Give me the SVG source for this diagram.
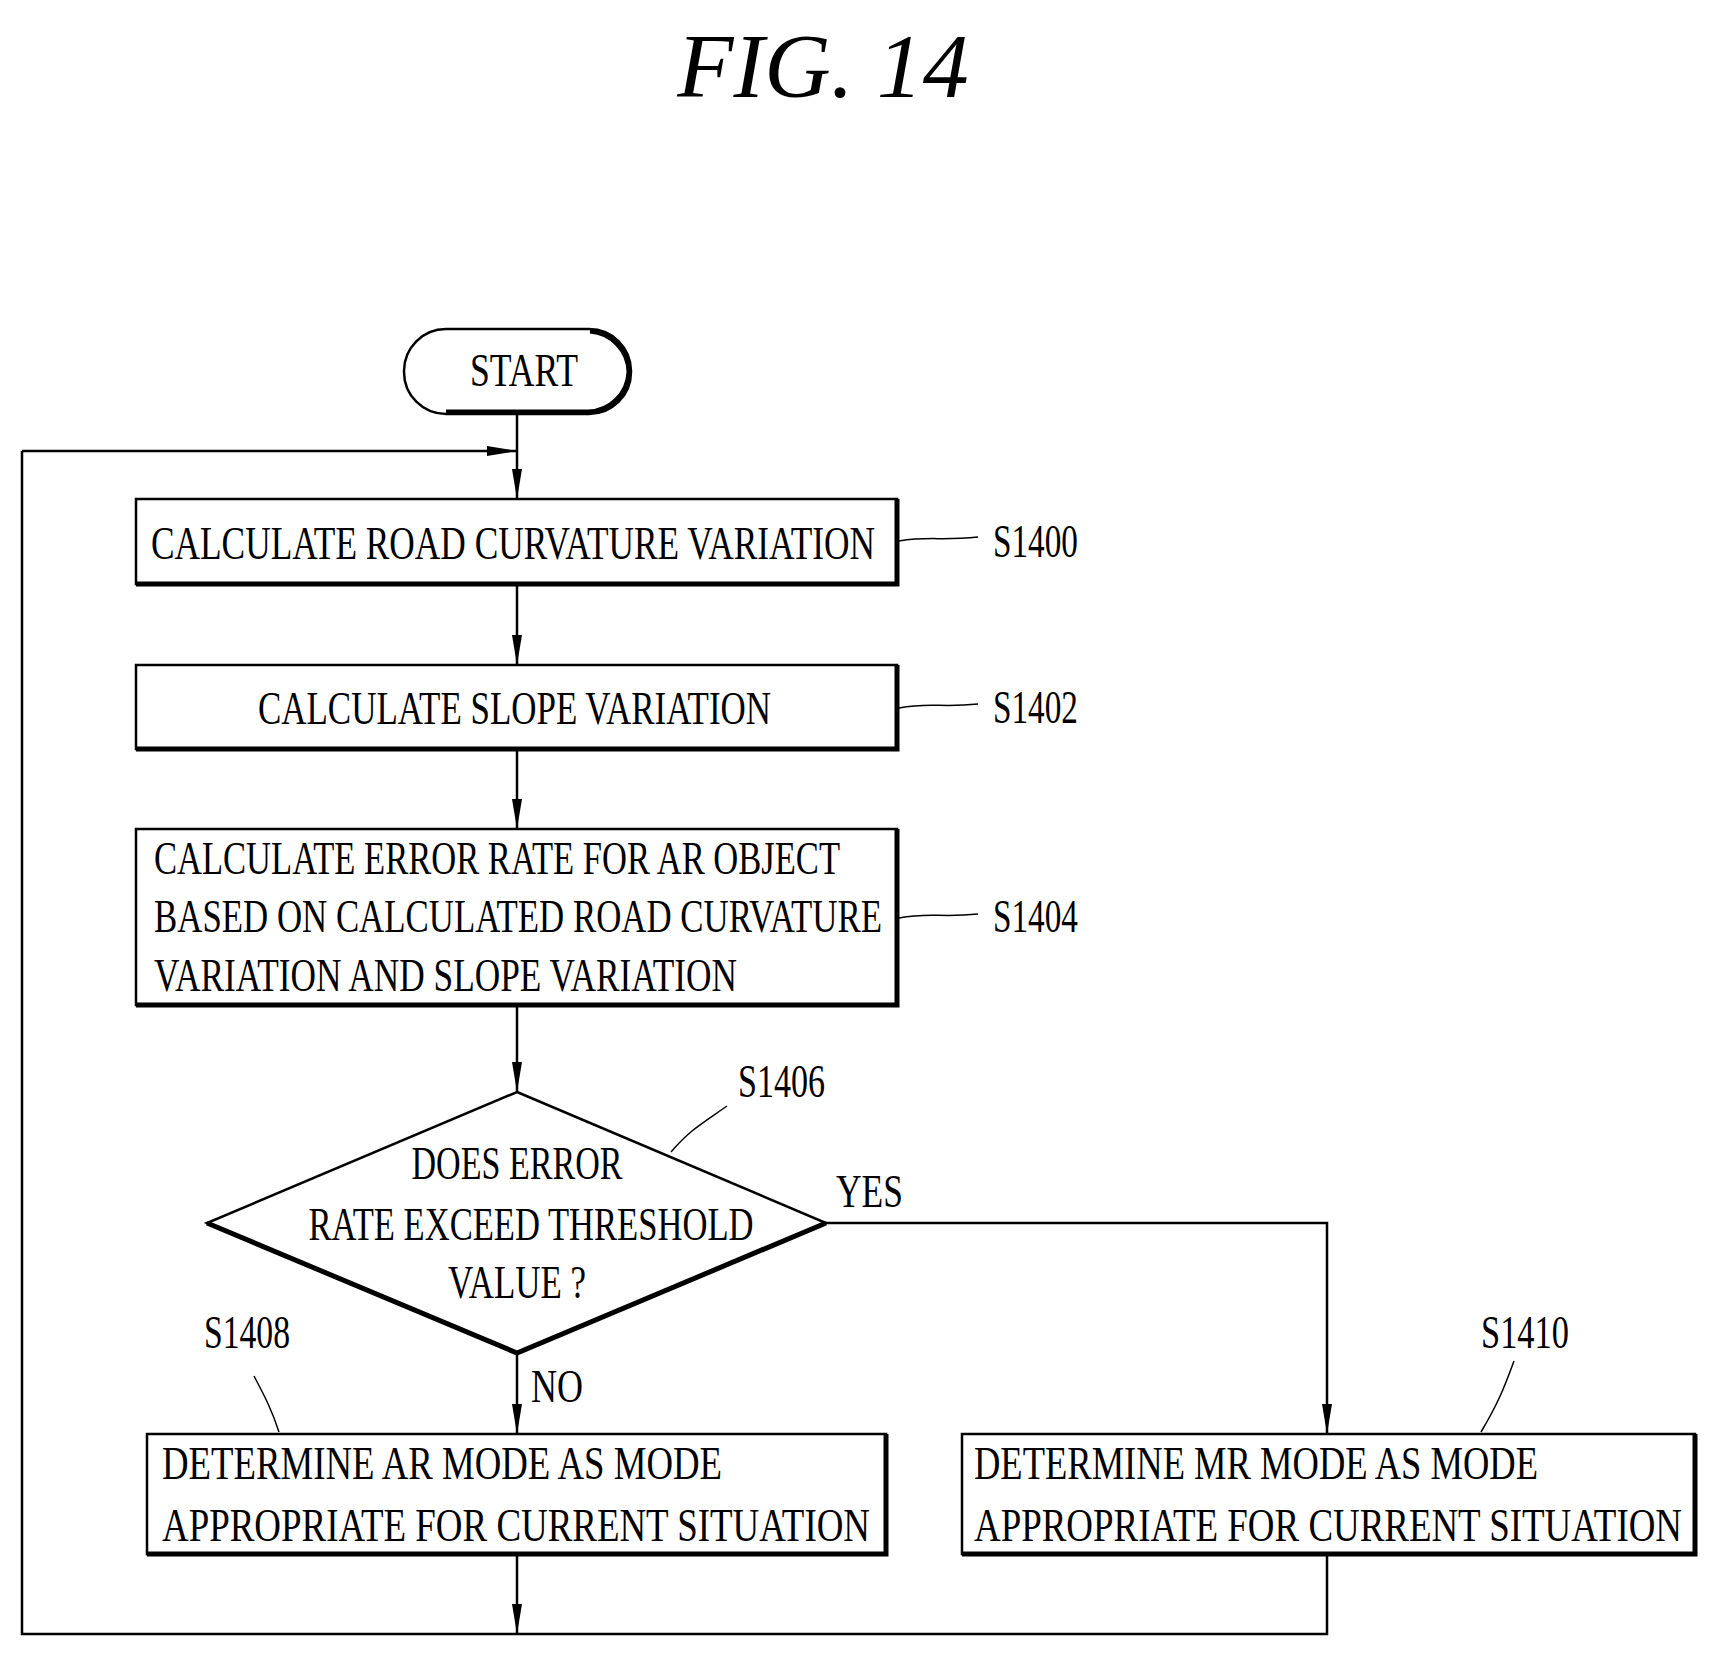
<svg xmlns="http://www.w3.org/2000/svg" width="1711" height="1654" viewBox="0 0 1711 1654">
<style>
text{font-family:"Liberation Serif","Times New Roman",serif;fill:#000}
.t{font-size:46px}
.box{fill:#fff;stroke:#000;stroke-width:2.5}
.sh{fill:none;stroke:#000;stroke-width:5}
.ln{fill:none;stroke:#000;stroke-width:2.5}
.ld{fill:none;stroke:#000;stroke-width:1.5}
</style>
<defs>
<marker id="ah" viewBox="0 0 10 10" refX="10" refY="5" markerWidth="30" markerHeight="10" markerUnits="userSpaceOnUse" orient="auto" preserveAspectRatio="none"><path d="M0,0 L10,5 L0,10 Z" fill="#000"/></marker>
</defs>
<text x="823" y="97" font-size="92" font-style="italic" text-anchor="middle">FIG. 14</text>
<g id="connectors">
<path class="ln" d="M517,414 V499" marker-end="url(#ah)"/>
<path class="ln" d="M22,451 H517" marker-end="url(#ah)"/>
<path class="ln" d="M517,584 V665" marker-end="url(#ah)"/>
<path class="ln" d="M517,749 V829" marker-end="url(#ah)"/>
<path class="ln" d="M517,1005 V1092" marker-end="url(#ah)"/>
<path class="ln" d="M517,1353 V1434" marker-end="url(#ah)"/>
<path class="ln" d="M826,1223 H1327 V1434" marker-end="url(#ah)"/>
<path class="ln" d="M517,1554 V1634" marker-end="url(#ah)"/>
<path class="ln" d="M1327,1554 V1634 H22 V451"/>
<text class="t" x="836" y="1207" textLength="67" lengthAdjust="spacingAndGlyphs">YES</text>
<text class="t" x="531" y="1402" textLength="52" lengthAdjust="spacingAndGlyphs">NO</text>
</g>
<g id="start">
<rect x="404" y="329" width="227" height="85" rx="42" class="box"/>
<path class="sh" d="M590,331 A42,42 0 0 1 629,372 A42,42 0 0 1 588,412 H446"/>
<text class="t" x="524" y="386" text-anchor="middle" textLength="108" lengthAdjust="spacingAndGlyphs">START</text>
</g>
<g id="s1400">
<rect x="136" y="499" width="761" height="85" class="box"/>
<path class="sh" d="M136,584 H897 V499"/>
<text class="t" x="151" y="559" textLength="724" lengthAdjust="spacingAndGlyphs">CALCULATE ROAD CURVATURE VARIATION</text>
<path class="ld" d="M899,541 C930,536 940,541 978,537"/>
<text class="t" x="993" y="557" textLength="85" lengthAdjust="spacingAndGlyphs">S1400</text>
</g>
<g id="s1402">
<rect x="136" y="665" width="761" height="84" class="box"/>
<path class="sh" d="M136,749 H897 V665"/>
<text class="t" x="258" y="724" textLength="513" lengthAdjust="spacingAndGlyphs">CALCULATE SLOPE VARIATION</text>
<path class="ld" d="M899,708 C930,702 940,708 978,704"/>
<text class="t" x="993" y="723" textLength="85" lengthAdjust="spacingAndGlyphs">S1402</text>
</g>
<g id="s1404">
<rect x="136" y="829" width="761" height="176" class="box"/>
<path class="sh" d="M136,1005 H897 V829"/>
<text class="t" x="154" y="874" textLength="686" lengthAdjust="spacingAndGlyphs">CALCULATE ERROR RATE FOR AR OBJECT</text>
<text class="t" x="154" y="932" textLength="728" lengthAdjust="spacingAndGlyphs">BASED ON CALCULATED ROAD CURVATURE</text>
<text class="t" x="154" y="991" textLength="583" lengthAdjust="spacingAndGlyphs">VARIATION AND SLOPE VARIATION</text>
<path class="ld" d="M899,918 C930,912 940,918 978,914"/>
<text class="t" x="993" y="932" textLength="85" lengthAdjust="spacingAndGlyphs">S1404</text>
</g>
<g id="s1406">
<polygon points="517,1092 826,1223 517,1353 207,1223" class="box"/>
<path class="sh" d="M207,1223 L517,1353 L826,1223"/>
<text class="t" x="517" y="1179" text-anchor="middle" textLength="211" lengthAdjust="spacingAndGlyphs">DOES ERROR</text>
<text class="t" x="531" y="1240" text-anchor="middle" textLength="445" lengthAdjust="spacingAndGlyphs">RATE EXCEED THRESHOLD</text>
<text class="t" x="517" y="1298" text-anchor="middle" textLength="138" lengthAdjust="spacingAndGlyphs">VALUE ?</text>
<path class="ld" d="M671,1152 C690,1130 700,1125 727,1106"/>
<text class="t" x="738" y="1097" textLength="87" lengthAdjust="spacingAndGlyphs">S1406</text>
</g>
<g id="s1408">
<rect x="147" y="1434" width="739" height="120" class="box"/>
<path class="sh" d="M147,1554 H886 V1434"/>
<text class="t" x="162" y="1479" textLength="560" lengthAdjust="spacingAndGlyphs">DETERMINE AR MODE AS MODE</text>
<text class="t" x="162" y="1541" textLength="708" lengthAdjust="spacingAndGlyphs">APPROPRIATE FOR CURRENT SITUATION</text>
<path class="ld" d="M254,1376 C264,1395 272,1410 279,1432"/>
<text class="t" x="204" y="1348" textLength="86" lengthAdjust="spacingAndGlyphs">S1408</text>
</g>
<g id="s1410">
<rect x="962" y="1434" width="733" height="120" class="box"/>
<path class="sh" d="M962,1554 H1695 V1434"/>
<text class="t" x="974" y="1479" textLength="564" lengthAdjust="spacingAndGlyphs">DETERMINE MR MODE AS MODE</text>
<text class="t" x="974" y="1541" textLength="708" lengthAdjust="spacingAndGlyphs">APPROPRIATE FOR CURRENT SITUATION</text>
<path class="ld" d="M1514,1361 C1505,1385 1500,1400 1481,1432"/>
<text class="t" x="1481" y="1348" textLength="88" lengthAdjust="spacingAndGlyphs">S1410</text>
</g>
</svg>
